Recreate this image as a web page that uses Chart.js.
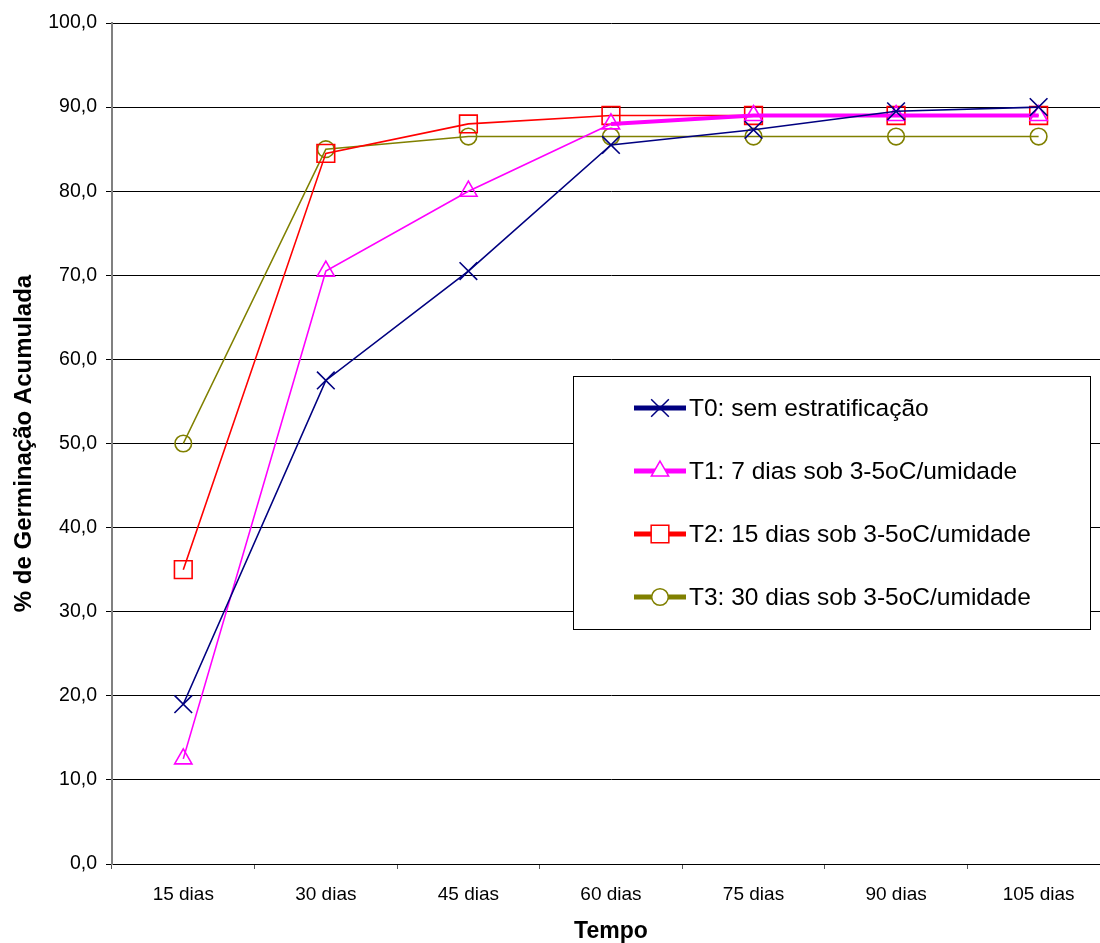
<!DOCTYPE html>
<html lang="pt">
<head>
<meta charset="utf-8">
<title>Germinação acumulada</title>
<script src="https://cdn.jsdelivr.net/npm/chart.js@4/dist/chart.umd.min.js"></script>
<style>
  html, body { margin: 0; padding: 0; background: #fff; overflow: hidden; }
  #wrap { width: 1124px; height: 943px; }
</style>
</head>
<body>
<div id="wrap"><canvas id="chart" width="1124" height="943"></canvas></div>
<script>
// Tempo de avaliação (eixo X)
const categories = ['15 dias', '30 dias', '45 dias', '60 dias', '75 dias', '90 dias', '105 dias'];

// Germinação acumulada (%) por tratamento
const seriesNames = [
  'T0: sem estratificação',
  'T1: 7 dias sob 3-5oC/umidade',
  'T2: 15 dias sob 3-5oC/umidade',
  'T3: 30 dias sob 3-5oC/umidade'
];
const t0Values = [19.0, 57.5, 70.5, 85.5, 87.3, 89.5, 90.0];
const t1Values = [12.5, 70.5, 80.0, 88.0, 89.0, 89.0, 89.0];
const t2Values = [35.0, 84.5, 88.0, 89.0, 89.0, 89.0, 89.0];
const t3Values = [50.0, 85.0, 86.5, 86.5, 86.5, 86.5, 86.5];

// Escala do eixo Y
const yMin = 0;
const yMax = 100;
const yStep = 10;

const FONT = '"Liberation Sans", Arial, Helvetica, sans-serif';

const styles = [
  { color: '#000080', point: 'crossRot', radius: 12.5 },
  { color: '#FF00FF', point: 'triangle', radius: 10 },
  { color: '#FF0000', point: 'rect', radius: 12.5 },
  { color: '#808000', point: 'circle', radius: 8.3 }
];
const values = [t0Values, t1Values, t2Values, t3Values];

const datasets = values.map((vals, i) => ({
  label: seriesNames[i],
  data: vals,
  borderColor: styles[i].color,
  backgroundColor: 'transparent',
  borderWidth: 1.6,
  pointStyle: styles[i].point,
  pointRadius: styles[i].radius,
  pointHoverRadius: styles[i].radius,
  pointBorderColor: styles[i].color,
  pointBackgroundColor: 'transparent',
  pointBorderWidth: 1.6,
  tension: 0,
  fill: false
}));
// T1 aparece com traço mais grosso a partir de 60 dias
datasets[1].segment = {
  borderWidth: ctx => (ctx.p0DataIndex >= 3 ? 4 : 1.6)
};

// Legenda desenhada dentro da área do gráfico
const boxLegend = {
  id: 'boxLegend',
  afterDraw(chart) {
    const ctx = chart.ctx;
    const x0 = 573.5, y0 = 376.5, x1 = 1090.5, y1 = 629.5;
    ctx.save();
    ctx.fillStyle = '#fff';
    ctx.fillRect(x0, y0, x1 - x0, y1 - y0);
    ctx.strokeStyle = '#000';
    ctx.lineWidth = 1;
    ctx.strokeRect(x0, y0, x1 - x0, y1 - y0);
    const rows = [408, 471, 534, 597];
    chart.data.datasets.forEach((ds, i) => {
      const y = rows[i];
      ctx.strokeStyle = ds.borderColor;
      ctx.lineWidth = 5;
      ctx.beginPath();
      ctx.moveTo(634, y);
      ctx.lineTo(686, y);
      ctx.stroke();
      const opts = {
        pointStyle: ds.pointStyle,
        radius: ds.pointRadius,
        borderWidth: 1.5,
        rotation: 0
      };
      ctx.strokeStyle = ds.pointBorderColor;
      ctx.lineWidth = 1.5;
      if (Chart.helpers && Chart.helpers.drawPoint) {
        ctx.fillStyle = ds.pointStyle === 'crossRot' ? ds.borderColor : '#fff';
        Chart.helpers.drawPoint(ctx, opts, 660, y);
      }
      ctx.fillStyle = '#000';
      ctx.font = '24.5px ' + FONT;
      ctx.textAlign = 'left';
      ctx.textBaseline = 'middle';
      ctx.fillText(ds.label, 689, y + 1);
    });
    ctx.restore();
  }
};

new Chart(document.getElementById('chart'), {
  type: 'line',
  data: { labels: categories, datasets },
  options: {
    responsive: false,
    animation: false,
    devicePixelRatio: 1,
    layout: { padding: { top: 23, right: 6, bottom: 0, left: 0 } },
    plugins: {
      legend: { display: false },
      tooltip: { enabled: false }
    },
    scales: {
      x: {
        type: 'category',
        offset: true,
        afterFit(scale) { scale.height = 79; },
        grid: {
          offset: true,
          drawOnChartArea: false,
          drawTicks: true,
          tickLength: 5,
          tickColor: '#555',
          tickWidth: 1
        },
        border: { display: true, color: '#000', width: 1 },
        ticks: {
          color: '#000',
          font: { family: FONT, size: 19 },
          padding: 14,
          maxRotation: 0,
          autoSkip: false
        },
        title: {
          display: true,
          text: 'Tempo',
          color: '#000',
          font: { family: FONT, size: 23, weight: 'bold', lineHeight: 1 },
          padding: { top: 0, bottom: 0 }
        }
      },
      y: {
        min: yMin,
        max: yMax,
        afterFit(scale) { scale.width = 112; },
        grid: {
          color: '#000',
          lineWidth: 1,
          drawTicks: true,
          tickLength: 6,
          tickColor: '#000'
        },
        border: { display: true, color: '#808080', width: 2 },
        ticks: {
          stepSize: yStep,
          color: '#000',
          font: { family: FONT, size: 19.5 },
          padding: 9,
          callback: v => Number(v).toFixed(1).replace('.', ',')
        },
        title: {
          display: true,
          text: '% de Germinação Acumulada',
          color: '#000',
          font: { family: FONT, size: 24, weight: 'bold', lineHeight: 1.2 },
          padding: { top: 10, bottom: 0 }
        }
      }
    }
  },
  plugins: [boxLegend]
});
</script>
</body>
</html>
